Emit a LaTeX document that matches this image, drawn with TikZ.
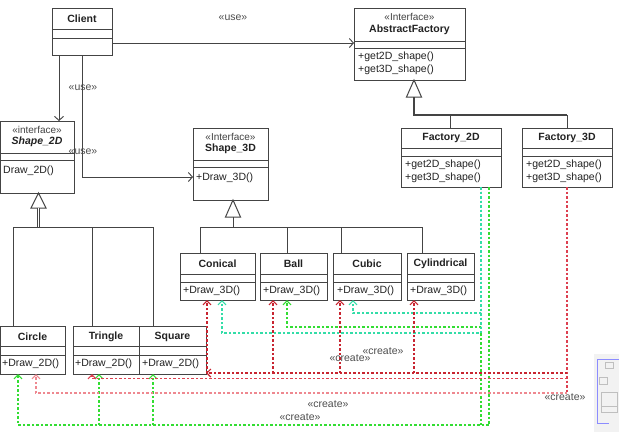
\documentclass[tikz,border=0pt]{standalone}
\usepackage{fontspec}
\setmainfont{Liberation Sans}
\usetikzlibrary{arrows.meta}
\definecolor{boxline}{HTML}{444444}
\definecolor{txt}{HTML}{222222}
\definecolor{dred}{HTML}{C82430}
\definecolor{mred}{HTML}{DD4050}
\definecolor{pred}{HTML}{EE8890}
\definecolor{gr}{HTML}{33DD33}
\definecolor{tl}{HTML}{33DDA8}
\newcommand{\umlbox}[7]{%
  \node[classbox, anchor=north west, minimum width={#4-#2}, minimum height={#5-#3}] (#1) at (#2,#3) {};
  \draw[boxline, line width=0.9pt] (#2,#6) -- (#4,#6) (#2,#7) -- (#4,#7);
}
\begin{document}
\begin{tikzpicture}[x=1pt,y=-1pt,
  font=\fontsize{10.5}{12}\selectfont,
  classbox/.style={draw=boxline, line width=1pt, fill=white, inner sep=0pt, outer sep=0pt},
  ttl/.style={font=\fontsize{10.5}{12}\selectfont\bfseries, text=txt, inner sep=0pt},
  ster/.style={font=\fontsize{10}{12}\selectfont, text=txt!85, inner sep=0pt},
  meth/.style={anchor=west, text=txt, inner sep=0pt},
  lbl/.style={font=\fontsize{10.5}{12}\selectfont, text=txt!80, inner sep=0pt},
  use/.style={draw=boxline, line width=0.9pt, -{Straight Barb[length=4pt,width=9pt]}},
  gen/.style={draw=boxline, line width=1pt},
  dep/.style={line width=1.2pt, dash pattern=on 2.5pt off 2pt, -{Straight Barb[length=4pt,width=8pt]}},
  depn/.style={line width=1.2pt, dash pattern=on 2.5pt off 2pt}
]
\useasboundingbox (0,0) rectangle (619,432);
\fill[white] (0,0) rectangle (619,432);

% ---- boxes ----
\umlbox{client}{52}{8}{112}{55}{29}{38}
\node[ttl] (clientT) at (82,19) {Client};

\umlbox{af}{354}{8}{465}{80}{41}{48}
\node[ster] (afS) at (409.5,17) {«Interface»};
\node[ttl] (afT) at (409.5,30) {AbstractFactory};
\node[meth] (afM1) at (358,57) {+get2D\_shape()};
\node[meth] (afM2) at (358,69.5) {+get3D\_shape()};

\umlbox{ftwo}{401}{128}{501}{187}{148}{156}
\node[ttl] (ftwoT) at (451,138) {Factory\_2D};
\node[meth] (ftwoM1) at (405,165) {+get2D\_shape()};
\node[meth] (ftwoM2) at (405,178) {+get3D\_shape()};

\umlbox{fthree}{522}{128}{612}{187}{148}{156}
\node[ttl] (fthreeT) at (567,138) {Factory\_3D};
\node[meth] (fthreeM1) at (526,165) {+get2D\_shape()};
\node[meth] (fthreeM2) at (526,178) {+get3D\_shape()};

\umlbox{stwo}{0.5}{121}{74}{193}{153}{160}
\node[ster] (stwoS) at (37,129.5) {«interface»};
\node[ttl, font=\fontsize{10.5}{12}\selectfont\bfseries\itshape] (stwoT) at (37,142) {Shape\_2D};
\node[meth] (stwoM) at (3,171) {Draw\_2D()};

\umlbox{sthree}{193}{128}{268}{200}{160}{167}
\node[ster] (sthreeS) at (230.5,137) {«Interface»};
\node[ttl] (sthreeT) at (230.5,148.5) {Shape\_3D};
\node[meth] (sthreeM) at (196,177.5) {+Draw\_3D()};

\umlbox{circle}{0.5}{326}{65}{374}{346}{355}
\node[ttl] (circleT) at (32.5,337) {Circle};
\node[meth] (circleM) at (2,364) {+Draw\_2D()};

\umlbox{tri}{73}{326}{139}{374}{346}{355}
\node[ttl] (triT) at (106,337) {Tringle};
\node[meth] (triM) at (75,364) {+Draw\_2D()};

\umlbox{sq}{139}{326}{206}{374}{346}{355}
\node[ttl] (sqT) at (172.5,337) {Square};
\node[meth] (sqM) at (142,364) {+Draw\_2D()};

\umlbox{con}{180}{253}{255}{300}{274}{282}
\node[ttl] (conT) at (217.5,264) {Conical};
\node[meth] (conM) at (183,291) {+Draw\_3D()};

\umlbox{ball}{260}{253}{327}{300}{274}{282}
\node[ttl] (ballT) at (293.5,264) {Ball};
\node[meth] (ballM) at (263,291) {+Draw\_3D()};

\umlbox{cub}{333}{253}{401}{300}{274}{282}
\node[ttl] (cubT) at (367,264) {Cubic};
\node[meth] (cubM) at (337,291) {+Draw\_3D()};

\umlbox{cyl}{407}{253}{474}{300}{274}{282}
\node[ttl] (cylT) at (440.5,264) {Cylindrical};
\node[meth] (cylM) at (410,291) {+Draw\_3D()};

% ---- use dependencies ----
\draw[use] (client.east |- 0,43) -- (af.west |- 0,43);
\draw[use] (59,0 |- client.south) -- (59,0 |- stwo.north);
\draw[use] (82,0 |- client.south) -- (82,177) -- (sthree.west |- 0,177);
\node[lbl] (use1) at (233,18) {«use»};
\node[lbl] (use2) at (83,88) {«use»};
\node[lbl] (use3) at (83,152) {«use»};

% ---- generalization: AbstractFactory ----
\coordinate (afTip) at (414,0 |- af.south);
\draw[gen, fill=white] (afTip) -- (406.5,97) -- (421.5,97) -- cycle;
\draw[gen, line width=2pt] (414,97) -- (414,115) -- (567,115);
\draw[gen] (450,115) -- (450,0 |- ftwo.north);
\draw[gen] (567,115) -- (567,0 |- fthree.north);

% ---- generalization: Shape_2D ----
\coordinate (s2Tip) at (38.5,0 |- stwo.south);
\draw[gen, fill=white] (s2Tip) -- (31,208) -- (46,208) -- cycle;
\draw[gen, double=white, double distance=1.2pt, line width=0.8pt] (38.5,208) -- (38.5,227);
\draw[gen] (13,227) -- (153,227);
\draw[gen] (13,227) -- (13,0 |- circle.north);
\draw[gen] (92,227) -- (92,0 |- tri.north);
\draw[gen] (153,227) -- (153,0 |- sq.north);

% ---- generalization: Shape_3D ----
\coordinate (s3Tip) at (233,0 |- sthree.south);
\draw[gen, fill=white] (s3Tip) -- (225.5,217) -- (240.5,217) -- cycle;
\draw[gen] (233,217) -- (233,227);
\draw[gen] (200,227) -- (422,227);
\draw[gen] (200,227) -- (200,0 |- con.north);
\draw[gen] (287,227) -- (287,0 |- ball.north);
\draw[gen] (341,227) -- (341,0 |- cub.north);
\draw[gen] (422,227) -- (422,0 |- cyl.north);

% ---- create: Factory_2D (green) ----
\draw[dep, tl] (481,0 |- ftwo.south) -- (481,313) -- (353,313) -- (353,0 |- cub.south);
\draw[dep, gr] (481,0 |- ftwo.south) -- (481,327) -- (287,327) -- (287,0 |- ball.south);
\draw[dep, tl] (481,0 |- ftwo.south) -- (481,333) -- (222,333) -- (222,0 |- con.south);
\draw[depn, gr] (481,333) -- (481,425);
\draw[dep, gr] (489,0 |- ftwo.south) -- (489,425) -- (18,425) -- (18,0 |- circle.south);
\draw[dep, gr] (99,425) -- (99,0 |- tri.south);
\draw[dep, gr] (153,425) -- (153,0 |- sq.south);

% ---- create: Factory_3D (red) ----
\draw[depn, mred] (567,0 |- fthree.south) -- (567,393);
\draw[dep, dred] (567,373) -- (sq.east |- 0,373);
\draw[dep, dred] (207,373) -- (207,0 |- con.south);
\draw[dep, dred] (273,373) -- (273,0 |- ball.south);
\draw[dep, dred] (340,373) -- (340,0 |- cub.south);
\draw[dep, dred] (414,373) -- (414,0 |- cyl.south);
\draw[dep, mred] (567,378.5) -- (92,378.5) -- (92,0 |- tri.south);
\draw[dep, pred] (567,393) -- (36,393) -- (36,0 |- circle.south);

% ---- create labels ----
\node[lbl] (cr1) at (383,351) {«create»};
\node[lbl] (cr2) at (350,358) {«create»};
\node[lbl] (cr3) at (328,404) {«create»};
\node[lbl] (cr4) at (300,417) {«create»};
\node[lbl] (cr5) at (565,397) {«create»};

% ---- thumbnail remnant at bottom right ----
\fill[black!5] (594,354) rectangle (619,432);
\draw[blue!45, line width=1pt] (597,360) -- (597,424);
\draw[blue!45, line width=1pt] (597,359) -- (619,359);
\draw[blue!45, line width=1pt] (597,423) -- (609,423);
\draw[black!25, line width=0.4pt] (605,362) rectangle (613,368);
\draw[black!25, line width=0.4pt] (599,377) rectangle (607,384);
\draw[black!25, line width=0.4pt] (601,392) rectangle (617,412);
\draw[black!25, line width=0.4pt] (601,406) -- (617,406);
\end{tikzpicture}
\end{document}
